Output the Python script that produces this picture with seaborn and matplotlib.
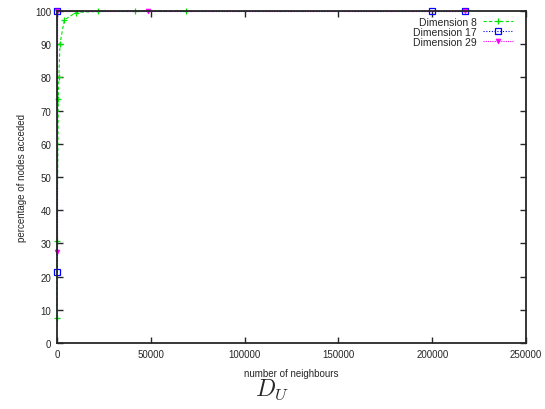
import numpy as np
import pandas as pd
import matplotlib
matplotlib.use("Agg")
import matplotlib.pyplot as plt
import seaborn as sns

# valores
x_dim8 = [0, 0, 700, 1000, 1600, 3900, 10000, 22000, 41600, 68600]
y_dim8 = [7.6, 30.6, 73.5, 80.2, 90.2, 97.3, 99.5, 99.9, 100, 100]

x_dim17 = [0, 0, 200000, 217500]
y_dim17 = [21.3, 100, 100, 100]

x_dim29 = [0, 0, 48300, 217500]
y_dim29 = [27.5, 100, 100, 100]

etiquetas = ["Dimension 8", "Dimension 17", "Dimension 29"]

sns.set_style("ticks")
plt.rcParams['font.family'] = ['Liberation Sans', 'DejaVu Sans']
plt.rcParams['mathtext.fontset'] = 'cm'

fig = plt.figure(figsize=(5.45, 4.10), dpi=100)
ax = fig.add_axes([0.1046, 0.161, 0.8606, 0.8098])

series = [
    (x_dim8, y_dim8, etiquetas[0], '#00e600', (0, (3, 2)), '+',
     dict(markersize=5, markeredgewidth=0.9)),
    (x_dim17, y_dim17, etiquetas[1], '#0000ff', (0, (1, 1.5)), 's',
     dict(markersize=4.5, markerfacecolor='none', markeredgewidth=0.9)),
    (x_dim29, y_dim29, etiquetas[2], '#ff00ff', (0, (1, 1)), 'v',
     dict(markersize=3.5, markeredgewidth=0.5)),
]
for xs, ys, nombre, color, ls, mk, kw in series:
    df = pd.DataFrame({"x": xs, "y": ys})
    sns.lineplot(data=df, x="x", y="y", ax=ax, color=color, linestyle=ls,
                 marker=mk, markeredgecolor=color, label=nombre, sort=False,
                 estimator=None, linewidth=0.8, clip_on=False, **kw)

ax.set_xlim(0, 250000)
ax.set_ylim(0, 100)
ax.set_xticks(np.arange(0, 250001, 50000))
ax.set_yticks(np.arange(0, 101, 10))
ax.tick_params(direction='in', top=True, right=True, length=4, width=1,
               labelsize=7, pad=4)
for s in ax.spines.values():
    s.set_linewidth(1.3)
    s.set_visible(True)
ax.set_xlabel("number of neighbours", fontsize=7, labelpad=7)
ax.set_ylabel("percentage of nodes acceded", fontsize=7, labelpad=6)

leg = ax.legend(loc='upper right', frameon=False, markerfirst=False,
                fontsize=7.5, handlelength=2.9, handletextpad=0.6,
                labelspacing=0.0, borderaxespad=0, borderpad=0,
                bbox_to_anchor=(0.9413, 0.956),
                bbox_transform=fig.transFigure)

fig.text(0.5, 0.048, r"$D_U$", fontsize=17, ha='center', va='center')

plt.savefig("out.png", dpi=100)
